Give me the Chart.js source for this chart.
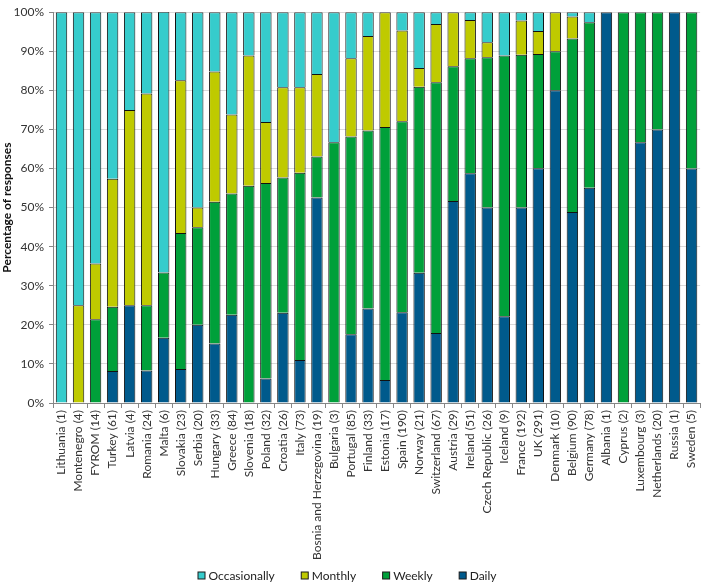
<!DOCTYPE html>
<html>
<head>
<meta charset="utf-8">
<script src="https://cdn.jsdelivr.net/npm/chart.js@4"></script>
<style>
  html, body { margin: 0; padding: 0; background: #fff; }
  #wrap { width: 708px; height: 582px; }
</style>
</head>
<body>
<div id="wrap"><canvas id="grafico"></canvas></div>
<script>
// paises (n de respostas)
const paises = ['Lithuania (1)', 'Montenegro (4)', 'FYROM (14)', 'Turkey (61)', 'Latvia (4)', 'Romania (24)',
  'Malta (6)', 'Slovakia (23)', 'Serbia (20)', 'Hungary (33)', 'Greece (84)', 'Slovenia (18)', 'Poland (32)',
  'Croatia (26)', 'Italy (73)', 'Bosnia and Herzegovina (19)', 'Bulgaria (3)', 'Portugal (85)', 'Finland (33)',
  'Estonia (17)', 'Spain (190)', 'Norway (21)', 'Switzerland (67)', 'Austria (29)', 'Ireland (51)',
  'Czech Republic (26)', 'Iceland (9)', 'France (192)', 'UK (291)', 'Denmark (10)', 'Belgium (90)',
  'Germany (78)', 'Albania (1)', 'Cyprus (2)', 'Luxembourg (3)', 'Netherlands (20)', 'Russia (1)', 'Sweden (5)'];

const daily = [0, 0, 0, 8.2, 25, 8.3, 16.7, 8.7, 20, 15.2, 22.6, 0, 6.3, 23.1, 11.0, 52.6, 0, 17.6, 24.2,
  5.9, 23.2, 33.3, 17.9, 51.7, 58.8, 50, 22.2, 50, 60.1, 80, 48.9, 55.1, 100, 0, 66.7, 70, 100, 60];
const weekly = [0, 0, 21.4, 16.4, 0, 16.7, 16.7, 34.8, 25, 36.3, 31.0, 55.6, 50, 34.6, 47.9, 10.5, 66.7, 50.6, 45.5,
  64.7, 48.9, 47.6, 64.2, 34.5, 29.4, 38.5, 66.7, 39.1, 29.2, 10, 44.4, 42.3, 0, 100, 33.3, 30, 0, 40];
const monthly = [0, 25, 14.3, 32.8, 50, 54.2, 0, 39.1, 5, 33.3, 20.2, 33.3, 15.6, 23.1, 21.9, 21.1, 0, 20.0, 24.2,
  29.4, 23.2, 4.8, 14.9, 13.8, 9.8, 3.8, 0, 8.8, 5.9, 10, 5.6, 0, 0, 0, 0, 0, 0, 0];
const occasionally = [100, 75, 64.3, 42.6, 25, 20.8, 66.7, 17.4, 50, 15.2, 26.2, 11.1, 28.1, 19.2, 19.2, 15.8, 33.3, 11.8, 6.1,
  0, 4.7, 14.3, 3.0, 0, 2.0, 7.7, 11.1, 2.1, 4.8, 0, 1.1, 2.6, 0, 0, 0, 0, 0, 0];

const yTicks = [0, 10, 20, 30, 40, 50, 60, 70, 80, 90, 100];

const fonte = "Lato, 'Liberation Sans', sans-serif";

// legenda desenhada embaixo, na ordem inversa das series
const legendaBaixo = {
  id: 'legendaBaixo',
  afterDraw(chart) {
    const ctx = chart.ctx;
    const itens = chart.data.datasets.slice().reverse();
    ctx.save();
    ctx.font = '12px ' + fonte;
    const box = 7, gapTexto = 4, gapItem = 26;
    const larguras = itens.map(d => box + gapTexto + ctx.measureText(d.label).width);
    const total = larguras.reduce((a, b) => a + b, 0) + gapItem * (itens.length - 1);
    let x = 347 - total / 2;
    const y = 575;
    itens.forEach((d, i) => {
      ctx.fillStyle = d.backgroundColor;
      ctx.fillRect(x + 0.5, y - box / 2 + 0.5, box, box);
      ctx.strokeStyle = '#1a1a1a';
      ctx.lineWidth = 1;
      ctx.strokeRect(x + 0.5, y - box / 2 + 0.5, box, box);
      ctx.fillStyle = '#222';
      ctx.textBaseline = 'middle';
      ctx.textAlign = 'left';
      ctx.fillText(d.label, x + box + gapTexto, y + 1);
      x += larguras[i] + gapItem;
    });
    ctx.restore();
  }
};

// zero vira null para nao desenhar borda em segmento vazio
const serie = (label, data, cor) => ({
  label: label,
  data: data.map(v => (v === 0 ? null : v)),
  backgroundColor: cor,
  borderColor: '#111',
  borderWidth: 1,
  barPercentage: 0.67,
  categoryPercentage: 1
});

const ctx = document.getElementById('grafico').getContext('2d');
const grafico = new Chart(ctx, {
  type: 'bar',
  data: {
    labels: paises,
    datasets: [
      serie('Daily', daily, '#005A8C'),
      serie('Weekly', weekly, '#00A03A'),
      serie('Monthly', monthly, '#BFCA00'),
      serie('Occasionally', occasionally, '#36CCCC')
    ]
  },
  options: {
    responsive: true,
    maintainAspectRatio: false,
    animation: false,
    layout: { padding: { top: 5, right: 1, left: 0, bottom: 12 } },
    plugins: {
      legend: { display: false },
      tooltip: { enabled: false }
    },
    scales: {
      x: {
        stacked: true,
        afterFit(scale) { scale.height = 167; },
        grid: {
          display: true,
          drawOnChartArea: false,
          offset: true,
          tickLength: 5,
          color: '#868686'
        },
        border: { color: '#868686' },
        ticks: {
          autoSkip: false,
          maxRotation: 90,
          minRotation: 90,
          padding: 2,
          color: '#333',
          font: { family: fonte, size: 12 }
        }
      },
      y: {
        stacked: true,
        min: 0,
        max: 100,
        afterFit(scale) { scale.width = 53; },
        afterBuildTicks(scale) { scale.ticks = yTicks.map(v => ({ value: v })); },
        grid: {
          color: '#d9d9d9',
          tickColor: '#868686',
          tickLength: 4
        },
        border: { color: '#868686' },
        ticks: {
          padding: 5,
          color: '#333',
          font: { family: fonte, size: 12 },
          callback: v => v + '%'
        },
        title: {
          display: true,
          text: 'Percentage of responses',
          color: '#111',
          padding: 0,
          font: { family: fonte, size: 12, weight: 'bold' }
        }
      }
    }
  },
  plugins: [legendaBaixo]
});
</script>
</body>
</html>
